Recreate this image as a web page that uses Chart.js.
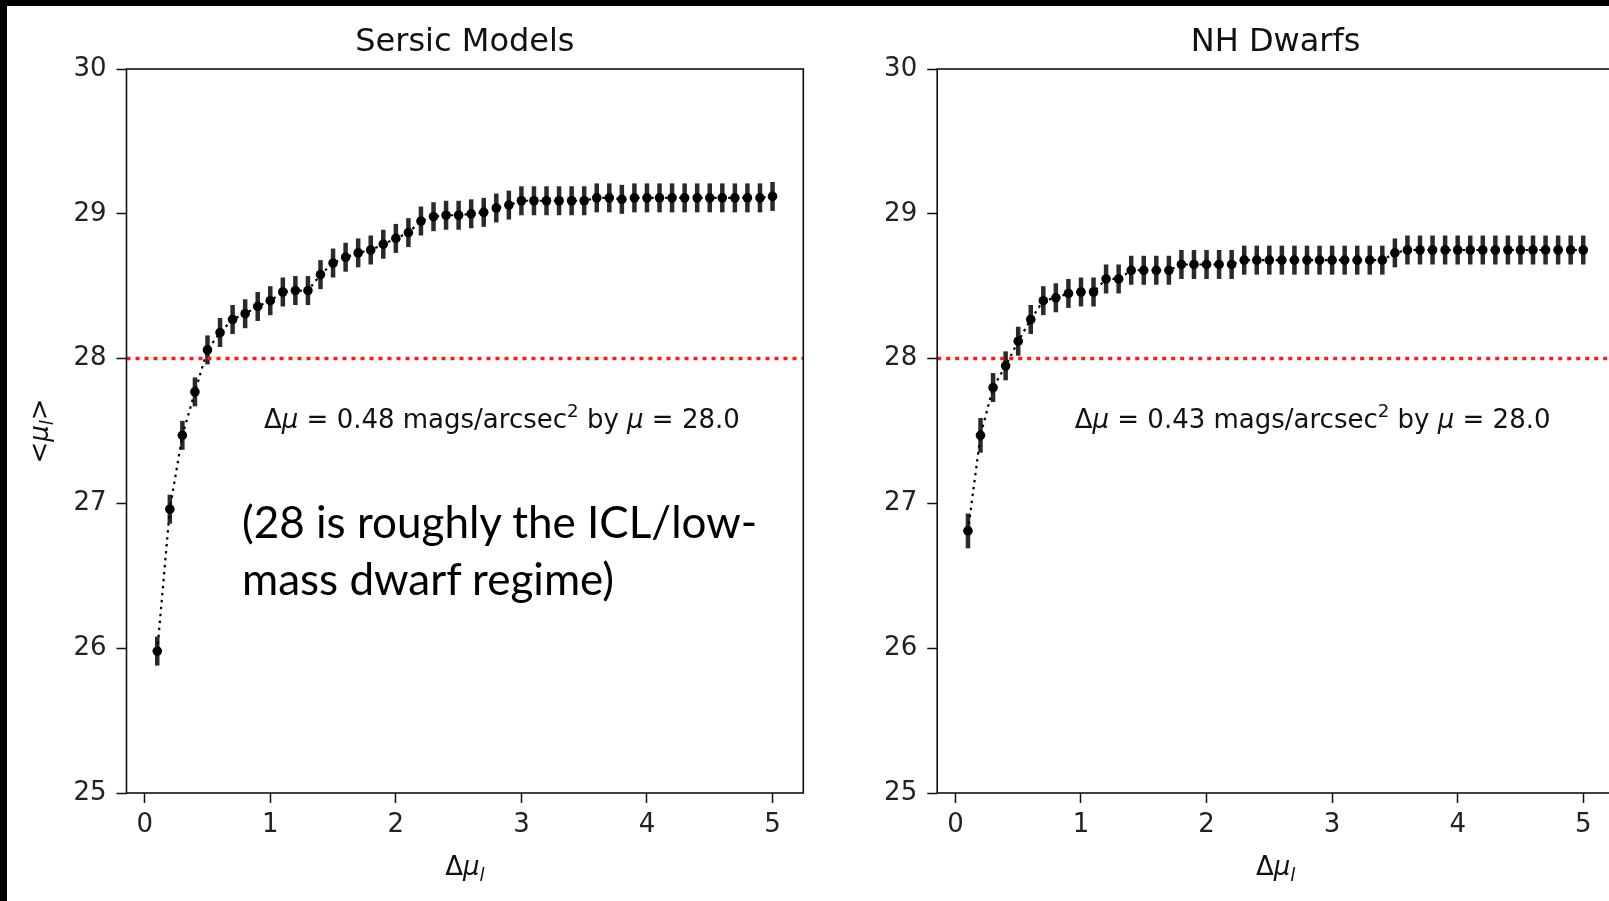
<!DOCTYPE html>
<html><head><meta charset="utf-8">
<script src="https://cdn.jsdelivr.net/npm/chart.js@4/dist/chart.umd.min.js"></script>
<style>
html,body{margin:0;padding:0;background:#fff;width:1609px;height:901px;overflow:hidden;position:relative;}
canvas{position:absolute;top:0;}
#c1{left:0;}
#c2{left:840px;}
.band{position:absolute;background:#000;z-index:5;}
#note{position:absolute;left:242px;top:493px;font-family:Lato,"Open Sans",sans-serif;font-size:44px;line-height:57px;color:#000;white-space:nowrap;z-index:4;}
</style></head>
<body>
<canvas id="c1" width="840" height="901"></canvas>
<canvas id="c2" width="790" height="901"></canvas>
<div class="band" style="left:0;top:0;width:1609px;height:6px"></div>
<div class="band" style="left:0;top:0;width:7px;height:901px"></div>
<div id="note">(28 is roughly the ICL/low-<br>mass dwarf regime)</div>
<script>
// ---- data ----
const deltaMu = [0.1,0.2,0.3,0.4,0.5,0.6,0.7,0.8,0.9,1.0,1.1,1.2,1.3,1.4,1.5,1.6,1.7,1.8,1.9,2.0,2.1,2.2,2.3,2.4,2.5,2.6,2.7,2.8,2.9,3.0,3.1,3.2,3.3,3.4,3.5,3.6,3.7,3.8,3.9,4.0,4.1,4.2,4.3,4.4,4.5,4.6,4.7,4.8,4.9,5.0];
const sersicMu = [25.98,26.96,27.47,27.77,28.06,28.18,28.27,28.31,28.36,28.40,28.46,28.47,28.47,28.58,28.66,28.70,28.73,28.75,28.79,28.83,28.87,28.95,28.98,28.99,28.99,29.00,29.01,29.04,29.06,29.09,29.09,29.09,29.09,29.09,29.09,29.11,29.11,29.10,29.11,29.11,29.11,29.11,29.11,29.11,29.11,29.11,29.11,29.11,29.11,29.12];
const sersicErr = [0.10,0.10,0.10,0.10,0.10,0.10,0.10,0.10,0.10,0.10,0.10,0.10,0.10,0.10,0.10,0.10,0.10,0.10,0.10,0.10,0.10,0.10,0.10,0.10,0.10,0.10,0.10,0.10,0.10,0.10,0.10,0.10,0.10,0.10,0.10,0.10,0.10,0.10,0.10,0.10,0.10,0.10,0.10,0.10,0.10,0.10,0.10,0.10,0.10,0.10];
const nhMu = [26.81,27.47,27.80,27.95,28.12,28.27,28.40,28.42,28.45,28.46,28.46,28.55,28.55,28.61,28.61,28.61,28.61,28.65,28.65,28.65,28.65,28.65,28.68,28.68,28.68,28.68,28.68,28.68,28.68,28.68,28.68,28.68,28.68,28.68,28.73,28.75,28.75,28.75,28.75,28.75,28.75,28.75,28.75,28.75,28.75,28.75,28.75,28.75,28.75,28.75];
const nhErr = [0.12,0.12,0.10,0.10,0.10,0.10,0.10,0.10,0.10,0.10,0.10,0.10,0.10,0.10,0.10,0.10,0.10,0.10,0.10,0.10,0.10,0.10,0.10,0.10,0.10,0.10,0.10,0.10,0.10,0.10,0.10,0.10,0.10,0.10,0.10,0.10,0.10,0.10,0.10,0.10,0.10,0.10,0.10,0.10,0.10,0.10,0.10,0.10,0.10,0.10];
const xTicks = [0,1,2,3,4,5];
const yTicks = [25,26,27,28,29,30];
const muLimit = 28;
const panelTitles = ['Sersic Models','NH Dwarfs'];
const noteDeltas = ['0.48','0.43'];

// ---- text helper ----
const FAM = '"DejaVu Sans"';
function runFont(r, size){
  const s = (r.sub||r.sup) ? size*0.7 : size;
  return (r.it ? 'italic ' : '') + s.toFixed(1) + 'px ' + FAM;
}
function drawRuns(ctx, runs, x, y, align, size, color){
  let total = 0;
  runs.forEach(r=>{ctx.font = runFont(r,size); r.w = ctx.measureText(r.t).width; total += r.w;});
  let cx = align==='center' ? x - total/2 : x;
  ctx.fillStyle = color; ctx.textAlign='left'; ctx.textBaseline='alphabetic';
  runs.forEach(r=>{
    ctx.font = runFont(r,size);
    let dy = r.sub ? size*0.22 : (r.sup ? -size*0.42 : 0);
    ctx.fillText(r.t, cx, y+dy);
    cx += r.w;
  });
}

function makePanel(title, ys, errs, delta, showYLabel){
  return {
    id:'panel',
    beforeDatasetsDraw(chart){
      const {ctx, scales:{x, y}} = chart;
      ctx.save();
      ctx.strokeStyle = '#2a2a2a'; ctx.lineWidth = 4.5; ctx.lineCap='butt';
      deltaMu.forEach((v,i)=>{
        const px = x.getPixelForValue(v);
        ctx.beginPath();
        ctx.moveTo(px, y.getPixelForValue(ys[i]+errs[i]));
        ctx.lineTo(px, y.getPixelForValue(ys[i]-errs[i]));
        ctx.stroke();
      });
      ctx.restore();
    },
    afterDatasetsDraw(chart){
      const {ctx, chartArea:a, scales:{y}} = chart;
      const py = y.getPixelForValue(muLimit);
      ctx.save();
      ctx.strokeStyle = '#ff1a1a'; ctx.lineWidth = 3.5; ctx.setLineDash([4,5]);
      ctx.beginPath(); ctx.moveTo(a.left, py); ctx.lineTo(a.right, py); ctx.stroke();
      ctx.restore();
    },
    afterDraw(chart){
      const {ctx, chartArea:a, scales:{x, y}} = chart;
      ctx.save();
      ctx.strokeStyle = '#111'; ctx.lineWidth = 1.6;
      ctx.strokeRect(a.left, a.top, a.right-a.left, a.bottom-a.top);
      const cx = (a.left+a.right)/2;
      ctx.font = '32px ' + FAM; ctx.fillStyle = '#111'; ctx.textAlign='center'; ctx.textBaseline='alphabetic';
      ctx.fillText(title, cx, 51);
      // x label
      drawRuns(ctx, [{t:'Δ'},{t:'μ',it:true},{t:'l',it:true,sub:true}], cx, 875, 'center', 26, '#111');
      // y label
      if (showYLabel) {
        ctx.save();
        ctx.translate(a.left - 79, (a.top+a.bottom)/2);
        ctx.rotate(-Math.PI/2);
        drawRuns(ctx, [{t:'<'},{t:'μ',it:true},{t:'l',it:true,sub:true},{t:'>'}], 0, 0, 'center', 26, '#111');
        ctx.restore();
      }
      // annotation
      const nx = x.getPixelForValue(0.95), ny = y.getPixelForValue(27.52);
      drawRuns(ctx, [{t:'Δ'},{t:'μ',it:true},{t:' = '+delta+' mags/arcsec'},{t:'2',sup:true},{t:' by '},{t:'μ',it:true},{t:' = 28.0'}], nx, ny, 'left', 26, '#111');
      ctx.restore();
    }
  };
}

function makeChart(id, title, ys, errs, delta, yWidth, padRight, showYLabel){
  const tickFont = {family:'DejaVu Sans', size:26};
  return new Chart(document.getElementById(id), {
    type:'line',
    data:{datasets:[{
      data: deltaMu.map((v,i)=>({x:v, y:ys[i]})),
      borderColor:'#000', borderWidth:2.2, borderDash:[2.5,4.5],
      pointRadius:4.8, pointBackgroundColor:'#000', pointBorderWidth:0,
      tension:0, fill:false
    }]},
    options:{
      responsive:false, animation:false, events:[],
      layout:{padding:{left:0, right:padRight, top:69, bottom:48}},
      plugins:{legend:{display:false}, tooltip:{enabled:false}, title:{display:false}},
      scales:{
        x:{type:'linear', min:-0.145, max:5.245,
          afterBuildTicks:s=>{s.ticks = xTicks.map(v=>({value:v}));},
          afterFit:s=>{s.height = 60;},
          grid:{display:true, drawOnChartArea:false, drawTicks:true, tickLength:10, tickWidth:1.5, tickColor:'#111'},
          border:{display:false},
          ticks:{color:'#222', font:tickFont, padding:7, maxRotation:0, autoSkip:false, callback:v=>String(v)}
        },
        y:{type:'linear', min:25, max:30,
          afterBuildTicks:s=>{s.ticks = yTicks.map(v=>({value:v}));},
          afterFit:s=>{s.width = yWidth;},
          grid:{display:true, drawOnChartArea:false, drawTicks:true, tickLength:10, tickWidth:1.5, tickColor:'#111'},
          border:{display:false},
          ticks:{color:'#222', font:tickFont, padding:10, autoSkip:false, callback:v=>String(v)}
        }
      }
    },
    plugins:[makePanel(title, ys, errs, delta, showYLabel)]
  });
}

makeChart('c1', panelTitles[0], sersicMu, sersicErr, noteDeltas[0], 126.5, 36.7, true);
makeChart('c2', panelTitles[1], nhMu, nhErr, noteDeltas[1], 97.2, 16, false);
</script>
</body></html>
